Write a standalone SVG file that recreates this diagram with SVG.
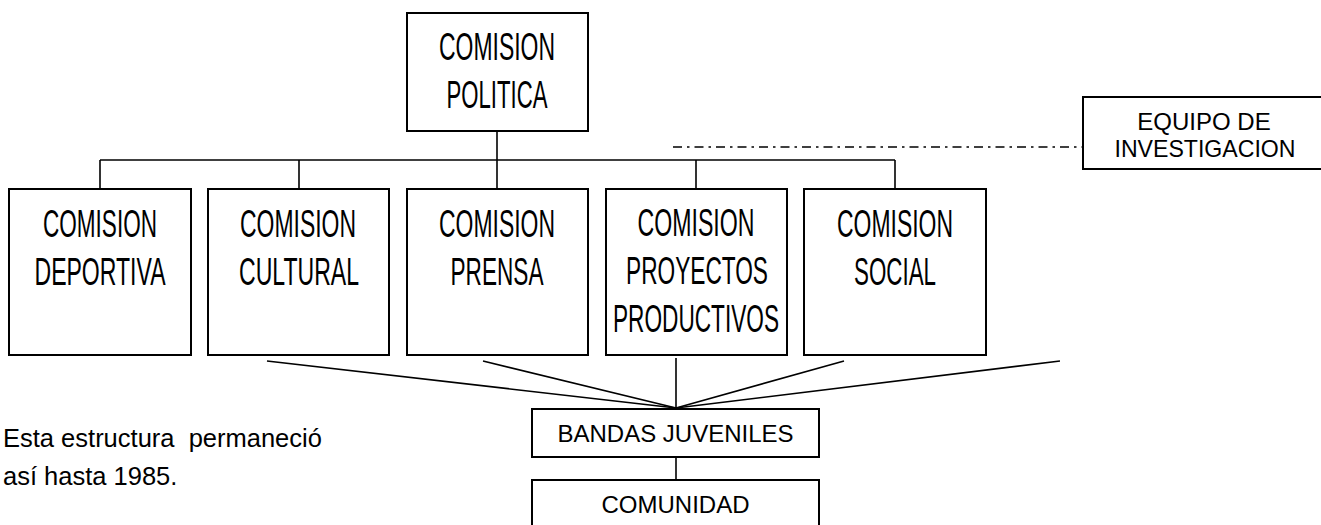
<svg xmlns="http://www.w3.org/2000/svg" width="1321" height="525" viewBox="0 0 1321 525">
<style>
.box{fill:#fff;stroke:#000;stroke-width:2}
.big{font-family:"Liberation Sans",Arial,sans-serif;font-size:38px;fill:#000;text-anchor:middle}
.sm{font-family:"Liberation Sans",Arial,sans-serif;font-size:24px;fill:#000;text-anchor:middle}
.note{font-family:"Liberation Sans",Arial,sans-serif;font-size:25.5px;fill:#000}
.ln{stroke:#000;stroke-width:1.6;fill:none}
.dd{stroke:#000;stroke-width:1.6;fill:none;stroke-dasharray:9 5 2.5 5}
</style>
<rect width="1321" height="525" fill="#fff"/>
<g id="connectors">
<line class="ln" x1="497" y1="131" x2="497" y2="160"/>
<line class="ln" x1="100" y1="160" x2="895" y2="160"/>
<line class="ln" x1="100" y1="160" x2="100" y2="189"/>
<line class="ln" x1="299" y1="160" x2="299" y2="189"/>
<line class="ln" x1="497" y1="160" x2="497" y2="189"/>
<line class="ln" x1="696" y1="160" x2="696" y2="189"/>
<line class="ln" x1="895" y1="160" x2="895" y2="189"/>
<line class="dd" x1="673" y1="147" x2="1083" y2="147"/>
<line class="ln" x1="267" y1="361" x2="676" y2="408"/>
<line class="ln" x1="483" y1="361" x2="676" y2="408"/>
<line class="ln" x1="676" y1="358" x2="676" y2="408"/>
<line class="ln" x1="844" y1="361" x2="676" y2="408"/>
<line class="ln" x1="1060" y1="361" x2="676" y2="408"/>
<line class="ln" x1="676" y1="457" x2="676" y2="480"/>
</g>
<g id="politica">
<rect class="box" x="407" y="13" width="181" height="118"/>
<text class="big" x="497" y="60" textLength="116" lengthAdjust="spacingAndGlyphs">COMISION</text>
<text class="big" x="497" y="108" textLength="101" lengthAdjust="spacingAndGlyphs">POLITICA</text>
</g>
<g id="equipo">
<rect class="box" x="1083" y="97" width="245" height="72"/>
<text class="sm" x="1204" y="130" font-size="23.5">EQUIPO DE</text>
<text class="sm" x="1205" y="157" font-size="23.5" textLength="181" lengthAdjust="spacingAndGlyphs">INVESTIGACION</text>
</g>
<g id="deportiva">
<rect class="box" x="9" y="189" width="182" height="166"/>
<text class="big" x="100" y="237" textLength="114" lengthAdjust="spacingAndGlyphs">COMISION</text>
<text class="big" x="100" y="285" textLength="131" lengthAdjust="spacingAndGlyphs">DEPORTIVA</text>
</g>
<g id="cultural">
<rect class="box" x="208" y="189" width="181" height="166"/>
<text class="big" x="298" y="237" textLength="116" lengthAdjust="spacingAndGlyphs">COMISION</text>
<text class="big" x="299" y="285" textLength="120" lengthAdjust="spacingAndGlyphs">CULTURAL</text>
</g>
<g id="prensa">
<rect class="box" x="407" y="189" width="181" height="166"/>
<text class="big" x="497" y="237" textLength="116" lengthAdjust="spacingAndGlyphs">COMISION</text>
<text class="big" x="497" y="285" textLength="93" lengthAdjust="spacingAndGlyphs">PRENSA</text>
</g>
<g id="proyectos">
<rect class="box" x="606" y="189" width="181" height="166"/>
<text class="big" x="696" y="236" textLength="117" lengthAdjust="spacingAndGlyphs">COMISION</text>
<text class="big" x="697" y="284" textLength="142" lengthAdjust="spacingAndGlyphs">PROYECTOS</text>
<text class="big" x="696" y="332" textLength="166" lengthAdjust="spacingAndGlyphs">PRODUCTIVOS</text>
</g>
<g id="social">
<rect class="box" x="804" y="189" width="182" height="166"/>
<text class="big" x="895" y="237" textLength="116" lengthAdjust="spacingAndGlyphs">COMISION</text>
<text class="big" x="895" y="285" textLength="82" lengthAdjust="spacingAndGlyphs">SOCIAL</text>
</g>
<g id="bandas">
<rect class="box" x="532" y="409" width="287" height="48"/>
<text class="sm" x="675.5" y="442">BANDAS JUVENILES</text>
</g>
<g id="comunidad">
<rect class="box" x="532" y="480" width="287" height="60"/>
<text class="sm" x="675.5" y="513">COMUNIDAD</text>
</g>
<g id="nota">
<text class="note" x="3" y="447" xml:space="preserve">Esta estructura  permaneció</text>
<text class="note" x="3" y="485">así hasta 1985.</text>
</g>
</svg>
